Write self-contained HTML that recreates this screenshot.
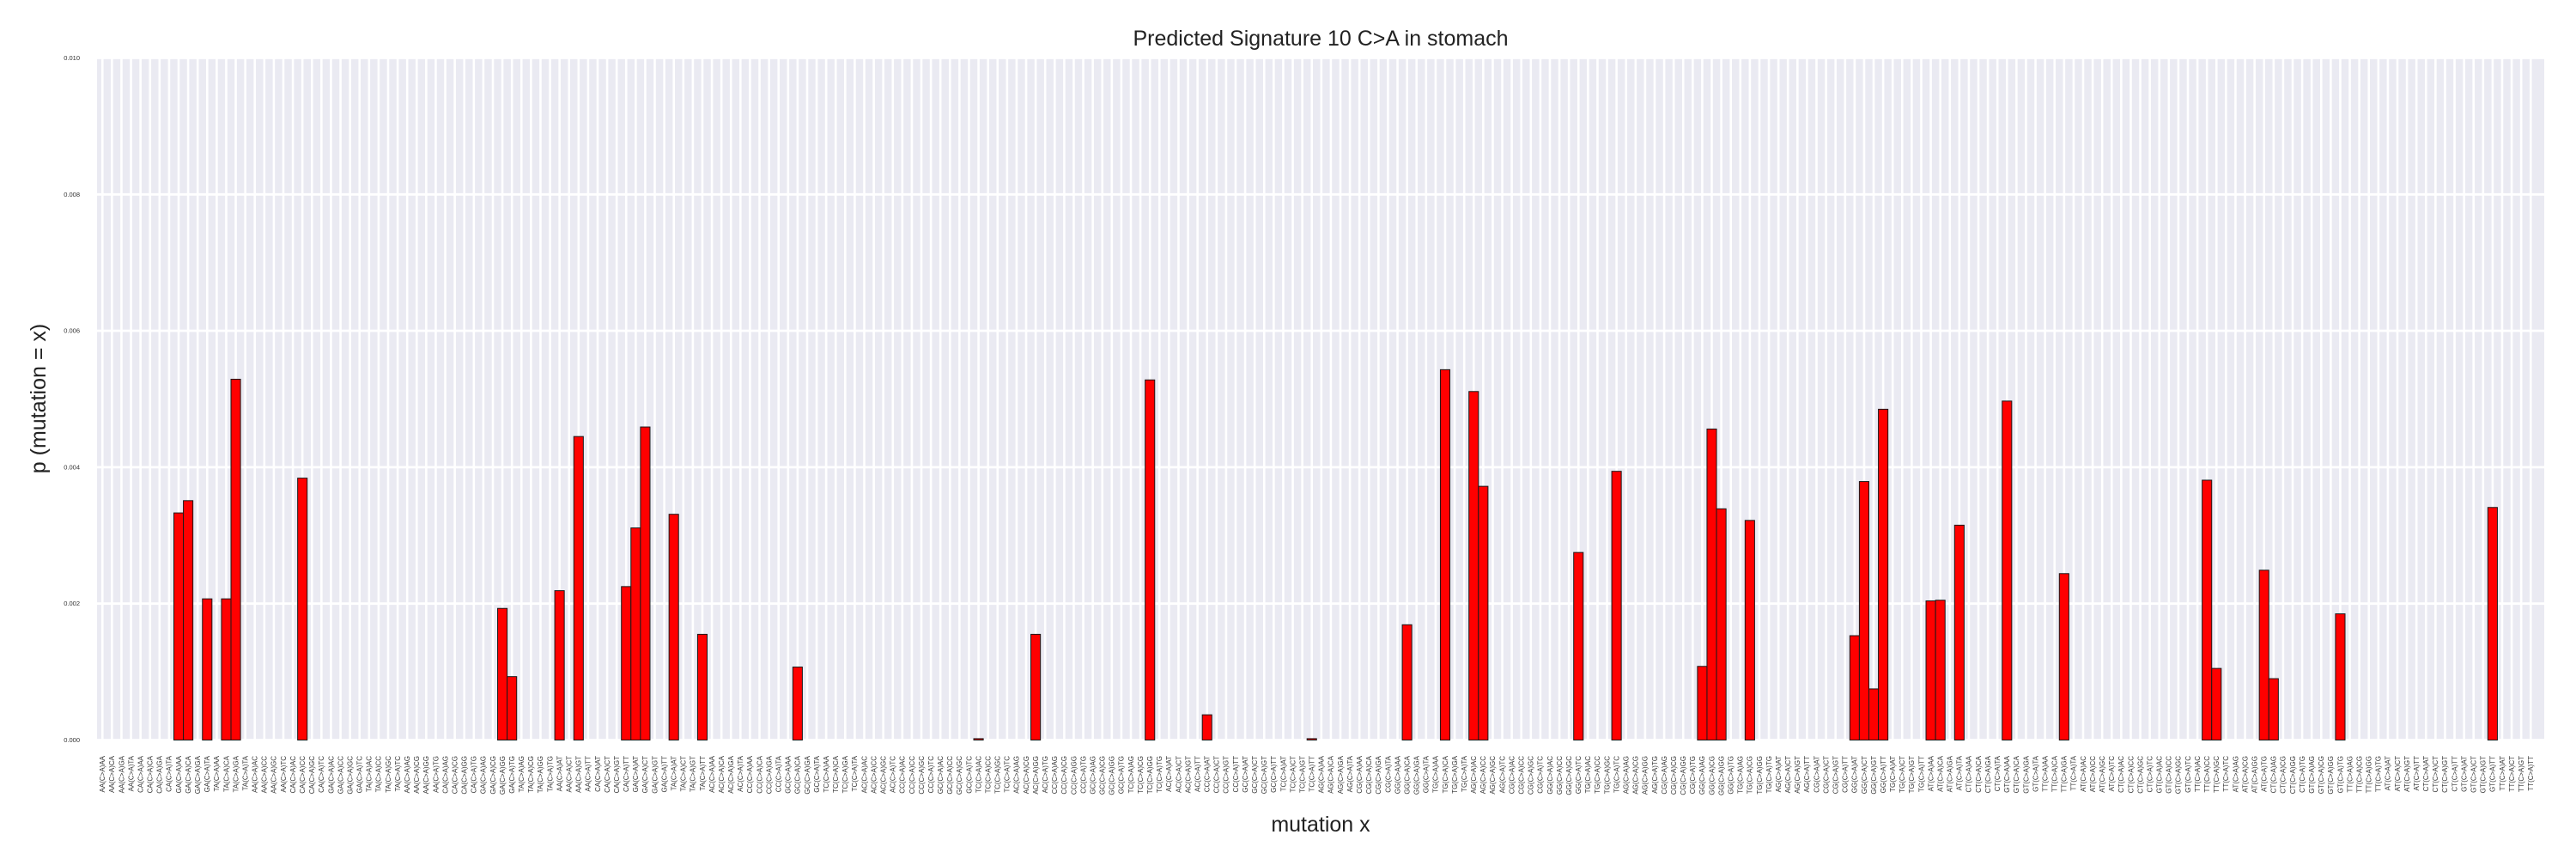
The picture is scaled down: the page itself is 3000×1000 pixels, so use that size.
<!DOCTYPE html>
<html>
<head>
<meta charset="utf-8">
<style>
  html, body { margin: 0; padding: 0; background: #fff; }
  svg { display: block; font-family: "Liberation Sans", "DejaVu Sans", sans-serif; }
</style>
</head>
<body>
<svg id="chart" width="3000" height="1000" viewBox="0 0 3000 1000" xmlns="http://www.w3.org/2000/svg">
  <rect x="113" y="67.5" width="2850" height="794" fill="#EAEAF2"/>
  <g id="vgrid"></g>
  <g id="hgrid"></g>
  <g id="bars"></g>
  <g id="yticks"></g>
  <g id="xticks"></g>
  <text x="1538" y="53" font-size="25" text-anchor="middle" fill="#222">Predicted Signature 10 C&gt;A in stomach</text>
  <text x="1538" y="968" font-size="25" text-anchor="middle" fill="#222">mutation x</text>
  <text x="0" y="0" font-size="25" text-anchor="middle" fill="#222" transform="translate(53,464) rotate(-90)">p (mutation = x)</text>
</svg>
<script>
const bases = ["A","C","G","T"];
const categories = [];
for (let b = 0; b < 16; b++) {
  for (let j = 0; j < 16; j++) {
    categories.push(bases[j >> 2] + bases[b >> 2] + "(C>A)" + bases[j & 3] + bases[b & 3]);
  }
}
const nonzeroIndex = [8, 9, 11, 13, 14, 21, 42, 43, 48, 50, 55, 56, 57, 60, 63, 73, 92, 98, 110, 116, 127, 137, 141, 144, 145, 155, 159, 168, 169, 170, 173, 184, 185, 186, 187, 192, 193, 195, 200, 206, 221, 222, 227, 228, 235, 251];
const nonzeroValue = [0.00333, 0.00351, 0.00207, 0.00207, 0.00529, 0.00384, 0.00193, 0.00093, 0.00219, 0.00445, 0.00225, 0.00311, 0.00459, 0.00331, 0.00155, 0.00107, 0.00002, 0.00155, 0.00528, 0.00037, 0.00002, 0.00169, 0.00543, 0.00511, 0.00372, 0.00275, 0.00394, 0.00108, 0.00456, 0.00339, 0.00322, 0.00153, 0.00379, 0.00075, 0.00485, 0.00204, 0.00205, 0.00315, 0.00497, 0.00244, 0.00381, 0.00105, 0.00249, 0.0009, 0.00185, 0.00341];
const yTickValues = [0, 0.002, 0.004, 0.006, 0.008, 0.010];
const yTickLabels = ["0.000", "0.002", "0.004", "0.006", "0.008", "0.010"];

const values = categories.map(() => 0);
nonzeroIndex.forEach((idx, k) => { values[idx] = nonzeroValue[k]; });

const NS = "http://www.w3.org/2000/svg";
const plotLeft = 113, plotRight = 2963, plotTop = 67.5, plotBottom = 861.5;
const slot = 11.09, c0 = 119.3;
const xScale = i => c0 + i * slot;
const yScale = v => plotBottom - (v / 0.010) * (plotBottom - plotTop);

const vgrid = document.getElementById("vgrid");
const hgrid = document.getElementById("hgrid");
const barsG = document.getElementById("bars");
const yticks = document.getElementById("yticks");
const xticks = document.getElementById("xticks");

categories.forEach((cat, i) => {
  const x = xScale(i);
  const gl = document.createElementNS(NS, "line");
  gl.setAttribute("x1", x); gl.setAttribute("x2", x);
  gl.setAttribute("y1", plotTop); gl.setAttribute("y2", plotBottom);
  gl.setAttribute("stroke", "#fff"); gl.setAttribute("stroke-width", "2.6");
  
  
  vgrid.appendChild(gl);

  const t = document.createElementNS(NS, "text");
  t.setAttribute("transform", "translate(" + (x + 2.8) + ",880) rotate(-90)");
  t.setAttribute("text-anchor", "end");
  t.setAttribute("font-size", "8");
  t.setAttribute("fill", "#333");
  t.textContent = cat;
  
  
  xticks.appendChild(t);
});

yTickValues.forEach((v, k) => {
  const y = yScale(v);
  const gl = document.createElementNS(NS, "line");
  gl.setAttribute("x1", plotLeft); gl.setAttribute("x2", plotRight);
  gl.setAttribute("y1", y); gl.setAttribute("y2", y);
  gl.setAttribute("stroke", "#fff"); gl.setAttribute("stroke-width", "2.8");
  
  
  hgrid.appendChild(gl);

  const t = document.createElementNS(NS, "text");
  t.setAttribute("x", 93); t.setAttribute("y", y + 2.5);
  t.setAttribute("text-anchor", "end");
  t.setAttribute("font-size", "7.5");
  t.setAttribute("fill", "#333");
  t.textContent = yTickLabels[k];
  
  
  yticks.appendChild(t);
});

values.forEach((v, i) => {
  if (v <= 0) return;
  const x = xScale(i) - slot / 2;
  const y = yScale(v);
  const r = document.createElementNS(NS, "rect");
  r.setAttribute("x", x); r.setAttribute("y", y);
  r.setAttribute("width", slot); r.setAttribute("height", Math.max(plotBottom - y, 0.5));
  r.setAttribute("fill", "#ff0000");
  r.setAttribute("stroke", "#1a1a1a"); r.setAttribute("stroke-width", "1");
  
  
  barsG.appendChild(r);
});
</script>
</body>
</html>
